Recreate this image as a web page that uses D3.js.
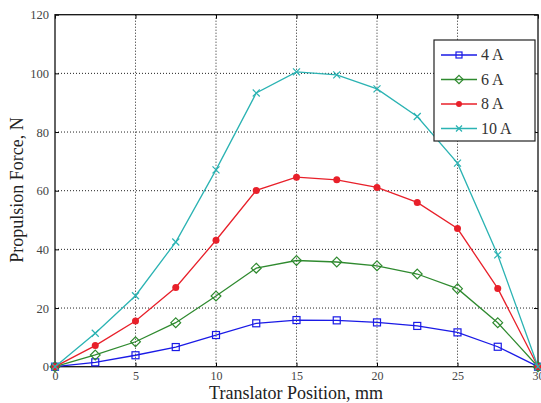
<!DOCTYPE html>
<html>
<head>
<meta charset="utf-8">
<script src="https://cdn.jsdelivr.net/npm/d3@7"></script>
<style>
  body { margin: 0; background: #fff; }
  svg { display: block; }
  text { font-family: "Liberation Serif", "DejaVu Serif", serif; }
</style>
</head>
<body>
<svg></svg>
<script>
// data
const positions = [0, 2.5, 5, 7.5, 10, 12.5, 15, 17.5, 20, 22.5, 25, 27.5, 30];
const force4A = [0, 1.5, 3.9, 6.7, 10.8, 14.8, 15.9, 15.8, 15.1, 13.9, 11.7, 6.8, 0];
const force6A = [0, 4.0, 8.5, 15.0, 24.1, 33.6, 36.2, 35.7, 34.4, 31.6, 26.6, 15.0, 0];
const force8A = [0, 7.2, 15.6, 27.0, 43.1, 60.1, 64.6, 63.7, 61.1, 56.0, 47.1, 26.7, 0];
const force10A = [0, 11.4, 24.2, 42.5, 67.1, 93.3, 100.5, 99.5, 94.7, 85.3, 69.4, 38.1, 0];
const seriesNames = ["4 A", "6 A", "8 A", "10 A"];
const xTicks = [0, 5, 10, 15, 20, 25, 30];
const yTicks = [0, 20, 40, 60, 80, 100, 120];

let width = 541,
  height = 403;

let svg = d3.select("svg").attr("width", width).attr("height", height);

const x = d3.scaleLinear().domain([0, 30]).range([55, 538]);
const y = d3.scaleLinear().domain([0, 120]).range([366.7, 14.7]);

const series = [
  { name: seriesNames[0], values: force4A, color: "#1a1ae6", marker: "square" },
  { name: seriesNames[1], values: force6A, color: "#2f8a2f", marker: "diamond" },
  { name: seriesNames[2], values: force8A, color: "#e8202a", marker: "circle" },
  { name: seriesNames[3], values: force10A, color: "#2bb3b3", marker: "cross" },
];

// grid
let grid = svg.append("g").attr("id", "grid");
grid
  .selectAll("line.vx")
  .data(xTicks.slice(1, -1))
  .enter()
  .append("line")
  .attr("x1", (d) => x(d))
  .attr("x2", (d) => x(d))
  .attr("y1", y(0))
  .attr("y2", y(120))
  .attr("stroke", "#222")
  .attr("stroke-width", 1)
  .style("stroke-dasharray", "1,2");
grid
  .selectAll("line.hy")
  .data(yTicks.slice(1, -1))
  .enter()
  .append("line")
  .attr("x1", x(0))
  .attr("x2", x(30))
  .attr("y1", (d) => y(d))
  .attr("y2", (d) => y(d))
  .attr("stroke", "#222")
  .attr("stroke-width", 1)
  .style("stroke-dasharray", "1,2");

// axes with inward ticks
svg
  .append("g")
  .attr("transform", `translate(0,${y(0)})`)
  .call(d3.axisBottom(x).tickValues(xTicks).tickSizeInner(-4).tickSizeOuter(0).tickPadding(5))
  .call((g) => g.select(".domain").remove())
  .call((g) => g.selectAll("text").attr("font-size", 12).attr("fill", "#444").style("font-family", "Liberation Serif"));
svg
  .append("g")
  .attr("transform", `translate(${x(0)},0)`)
  .call(d3.axisLeft(y).tickValues(yTicks).tickSizeInner(-4).tickSizeOuter(0).tickPadding(6))
  .call((g) => g.select(".domain").remove())
  .call((g) => g.selectAll("text").attr("font-size", 12.5).attr("fill", "#444").style("font-family", "Liberation Serif"));
svg
  .append("g")
  .attr("transform", `translate(0,${y(120)})`)
  .call(d3.axisTop(x).tickValues(xTicks).tickSizeInner(-4).tickSizeOuter(0).tickFormat(""))
  .call((g) => g.select(".domain").remove());
svg
  .append("g")
  .attr("transform", `translate(${x(30)},0)`)
  .call(d3.axisRight(y).tickValues(yTicks).tickSizeInner(-4).tickSizeOuter(0).tickFormat(""))
  .call((g) => g.select(".domain").remove());

// frame
svg
  .append("rect")
  .attr("x", x(0))
  .attr("y", y(120))
  .attr("width", x(30) - x(0))
  .attr("height", y(0) - y(120))
  .attr("fill", "none")
  .attr("stroke", "#111")
  .attr("stroke-width", 1.3);

// lines
const line = d3
  .line()
  .x((d, i) => x(positions[i]))
  .y((d) => y(d));

function drawMarker(g, type, color, size) {
  if (type === "square") {
    g.append("rect")
      .attr("x", -size / 2)
      .attr("y", -size / 2)
      .attr("width", size)
      .attr("height", size)
      .attr("fill", "none")
      .attr("stroke", color)
      .attr("stroke-width", 1.2);
  } else if (type === "diamond") {
    const s = size * 0.7;
    g.append("path")
      .attr("d", `M0,${-s} L${s},0 L0,${s} L${-s},0 Z`)
      .attr("fill", "none")
      .attr("stroke", color)
      .attr("stroke-width", 1.2);
  } else if (type === "circle") {
    g.append("circle").attr("r", size / 2).attr("fill", color);
  } else {
    const s = size / 2;
    g.append("path")
      .attr("d", `M${-s},${-s} L${s},${s} M${-s},${s} L${s},${-s}`)
      .attr("stroke", color)
      .attr("stroke-width", 1.2);
  }
}

series.forEach((s) => {
  let g = svg.append("g").attr("class", "series");
  g.append("path")
    .datum(s.values)
    .attr("d", line)
    .attr("fill", "none")
    .attr("stroke", s.color)
    .attr("stroke-width", 1.3);
  g.selectAll("g.pt")
    .data(s.values)
    .enter()
    .append("g")
    .attr("transform", (d, i) => `translate(${x(positions[i])},${y(d)})`)
    .each(function () {
      drawMarker(d3.select(this), s.marker, s.color, 7);
    });
});

// legend
let legend = svg.append("g").attr("id", "legend");
legend
  .append("rect")
  .attr("x", 434)
  .attr("y", 40)
  .attr("width", 101)
  .attr("height", 101)
  .attr("fill", "#fff")
  .attr("stroke", "#222")
  .attr("stroke-width", 1.2);
series.forEach((s, i) => {
  let ly = 55 + i * 24.5;
  legend
    .append("line")
    .attr("x1", 441)
    .attr("x2", 477)
    .attr("y1", ly)
    .attr("y2", ly)
    .attr("stroke", s.color)
    .attr("stroke-width", 1.4);
  let m = legend.append("g").attr("transform", `translate(459,${ly})`);
  drawMarker(m, s.marker, s.color, 6);
  legend
    .append("text")
    .attr("x", 481)
    .attr("y", ly + 5)
    .attr("font-size", 16)
    .attr("fill", "#333")
    .text(s.name);
});

// axis titles
svg
  .append("text")
  .attr("x", 296)
  .attr("y", 399)
  .attr("text-anchor", "middle")
  .attr("font-size", 18)
  .attr("fill", "#222")
  .text("Translator Position, mm");
svg
  .append("text")
  .attr("transform", "translate(23,190) rotate(-90)")
  .attr("text-anchor", "middle")
  .attr("font-size", 18)
  .attr("fill", "#222")
  .text("Propulsion Force, N");
</script>
</body>
</html>
